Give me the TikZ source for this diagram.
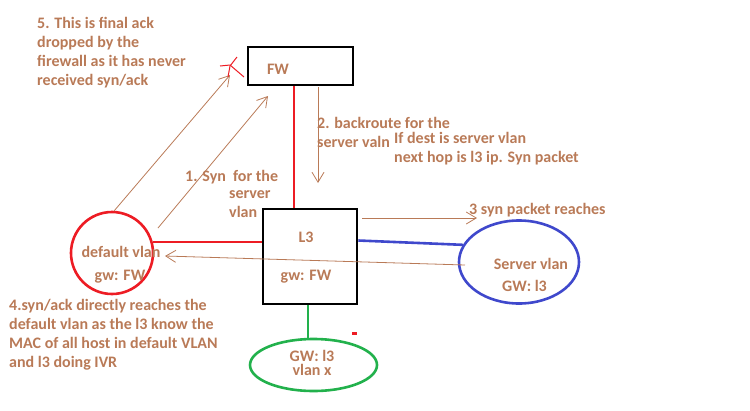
\documentclass[tikz,border=0pt]{standalone}
\usepackage{fontspec}
\setmainfont{Carlito}
\usepackage{tikz}
\usetikzlibrary{
  arrows.meta,      % Straight Barb 箭头
  shapes.geometric  % 椭圆节点
}
\definecolor{paintbrown}{RGB}{185,122,87}
\definecolor{paintred}{RGB}{237,28,36}
\definecolor{paintblue}{RGB}{63,72,204}
\definecolor{paintgreen}{RGB}{34,177,76}
\tikzset{
  box node/.style={
    draw=black,
    line width=2.6pt,
    inner sep=0pt
  },
  vlan node/.style={
    line width=2.6pt,
    inner sep=0pt
  },
  note/.style={
    text=paintbrown,
    font=\bfseries\fontsize{16}{19}\selectfont,
    inner sep=0pt,
    align=left
  },
  flow/.style={
    -{Straight Barb[length=10pt,width=12pt]},
    line width=0.8pt,
    color=paintbrown
  },
  red link/.style={
    paintred,
    line width=2.6pt
  },
  blue link/.style={
    paintblue,
    line width=2.6pt
  },
  green link/.style={
    paintgreen,
    line width=2.6pt
  }
}

\begin{document}
\begin{tikzpicture}[x=1pt, y=-1pt]
    \useasboundingbox (0,0) rectangle (750,410);

    % --- 设备与网段 ---
    \node[box node, minimum width=105pt, minimum height=38pt] (fw) at (300.5,66) {};
    \node[box node, minimum width=94pt, minimum height=95pt] (l3) at (310,256.5) {};
    \node[vlan node, circle, draw=paintred, minimum size=82pt] (dvlan) at (112,253) {};
    \node[vlan node, ellipse, draw=paintblue, minimum width=120pt, minimum height=83pt] (svlan) at (519,262) {};
    \node[vlan node, ellipse, draw=paintgreen, minimum width=127pt, minimum height=52pt] (gvlan) at (313.5,365) {};

    % 节点内文字
    \node[note] (fwlabel) at (278,69) {FW};
    \node[note] (l3name) at (306,237) {L3};
    \node[note] (l3gw) at (306,277) {gw: FW};
    \node[note] (dname) at (121,252) {default vlan};
    \node[note] (dgw) at (120,277) {gw: FW};
    \node[note] (sname) at (531,264) {Server vlan};
    \node[note] (sgw) at (524.5,286) {GW: l3};
    \node[note, align=center, font=\bfseries\fontsize{16}{14}\selectfont] (gname) at (312,363) {GW: l3\\vlan x};

    % --- 物理连线 ---
    \draw[red link] ([xshift=-6.5pt]fw.south) -- ([xshift=-6.5pt]fw.south |- l3.north);
    \draw[red link] (dvlan.15) -- (dvlan.15 -| l3.west);
    \draw[blue link] ([yshift=16pt]l3.east) -- (svlan.163);
    \draw[green link] ([xshift=-2pt]l3.south) -- ([xshift=-2pt]l3.south |- gvlan.north);

    % --- 报文流向 (细箭头) ---
    \coordinate (syn5s) at (114,211);
    \coordinate (syn5e) at (230,75);
    \coordinate (syn1s) at (158,228);
    \coordinate (syn1e) at (268,96);
    \coordinate (back2s) at (318,87);
    \coordinate (back2e) at (318,183);
    \coordinate (syn3s) at (362,218);
    \coordinate (syn3e) at (477,218);
    \coordinate (ack4s) at (465,265);
    \coordinate (ack4e) at (165,256);
    \draw[flow] (syn5s) -- (syn5e);
    \draw[flow] (syn1s) -- (syn1e);
    \draw[flow] (back2s) -- (back2e);
    \draw[flow] (syn3s) -- (syn3e);
    \draw[flow] (ack4s) -- (ack4e);

    % 被丢弃的标记
    \draw[paintred, line width=1pt] (220,66) -- (230,65) -- (244,77);
    \draw[paintred, line width=1pt] (237,57) -- (230,66) -- (228,77);
    \fill[paintred] (352,332) rectangle (357,335);

    % --- 说明文字 ---
    \node[note, anchor=west] (note5) at (37,52.5) {5. This is final ack\\dropped by the\\firewall as it has never\\received syn/ack};
    \node[note, anchor=west] (note1a) at (185,177) {1. Syn~ for the};
    \node[note, anchor=west] (note1b) at (229,204.5) {server\\vlan};
    \node[note, anchor=west] (note2a) at (317,132.5) {2. backroute for the\\server valn};
    \node[note, anchor=west] (note2b) at (394,149) {If dest is server vlan\\next hop is l3 ip. Syn packet};
    \node[note, anchor=west] (note3) at (469,210) {3 syn packet reaches};
    \node[note, anchor=west] (note4) at (9,335) {4.syn/ack directly reaches the\\default vlan as the l3 know the\\MAC of all host in default VLAN\\and l3 doing IVR};

  \end{tikzpicture}
\end{document}
